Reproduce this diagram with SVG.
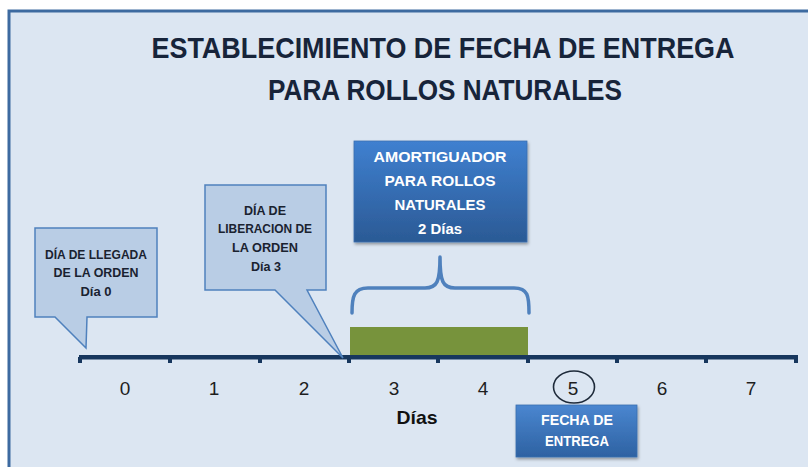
<svg xmlns="http://www.w3.org/2000/svg" width="808" height="467" viewBox="0 0 808 467">
<defs>
<linearGradient id="gBlue" x1="0" y1="0" x2="0" y2="1">
<stop offset="0" stop-color="#3f80d0"/>
<stop offset="1" stop-color="#2b5a95"/>
</linearGradient>
<linearGradient id="gBlue2" x1="0" y1="0" x2="0" y2="1">
<stop offset="0" stop-color="#4a86d0"/>
<stop offset="1" stop-color="#2e62a2"/>
</linearGradient>
<filter id="sh" x="-10%" y="-10%" width="125%" height="130%">
<feDropShadow dx="1" dy="2" stdDeviation="1.5" flood-color="#000" flood-opacity="0.35"/>
</filter>
<style>
.title{font-family:"Liberation Sans",Arial,sans-serif;font-weight:bold;font-size:30px;fill:#17243a;text-anchor:middle}
.call{fill:#b9cde5;stroke:#4f81bd;stroke-width:1.5}
.ct{font-family:"Liberation Sans",Arial,sans-serif;font-weight:bold;font-size:13px;fill:#1a2230;text-anchor:middle}
.wt{font-family:"Liberation Sans",Arial,sans-serif;font-weight:bold;font-size:15px;fill:#ffffff;text-anchor:middle}
.num{font-family:"Liberation Sans",Arial,sans-serif;font-size:19px;fill:#1e1e1e;text-anchor:middle}
.tick{fill:#17375e}
</style>
</defs>
<rect x="0" y="0" width="808" height="467" fill="#ffffff"/>
<rect x="9" y="11" width="812" height="470" fill="#dce6f2" stroke="#3d6aa0" stroke-width="3"/>

<g id="title">
<text class="title" x="443" y="58" textLength="583" lengthAdjust="spacingAndGlyphs">ESTABLECIMIENTO DE FECHA DE ENTREGA</text>
<text class="title" x="445" y="100" textLength="354" lengthAdjust="spacingAndGlyphs">PARA ROLLOS NATURALES</text>
</g>

<g id="connectors">
<path d="M352,313 C352,296 354,288 368,288 L425,288 C437,288 440,282 440,257 C440,282 443,288 455,288 L514,288 C528,288 529,296 529,313" fill="none" stroke="#4f81bd" stroke-width="3.5" stroke-linecap="round" stroke-linejoin="round"/>
</g>

<g id="buffer-bar">
<rect x="350" y="327" width="178" height="30" fill="#77933c"/>
</g>

<g id="axis">
<rect x="79" y="355" width="719" height="4.5" fill="#17375e"/>
<rect class="tick" x="78" y="357" width="4" height="6"/>
<rect class="tick" x="168" y="357" width="4" height="6"/>
<rect class="tick" x="258" y="357" width="4" height="6"/>
<rect class="tick" x="347" y="357" width="4" height="6"/>
<rect class="tick" x="436" y="357" width="4" height="6"/>
<rect class="tick" x="526" y="357" width="4" height="6"/>
<rect class="tick" x="615" y="357" width="4" height="6"/>
<rect class="tick" x="704" y="357" width="4" height="6"/>
<rect class="tick" x="794" y="357" width="4" height="6"/>
<text class="num" x="125" y="395">0</text>
<text class="num" x="214" y="395">1</text>
<text class="num" x="304" y="395">2</text>
<text class="num" x="394" y="395">3</text>
<text class="num" x="483" y="395">4</text>
<text class="num" x="573" y="395">5</text>
<text class="num" x="662" y="395">6</text>
<text class="num" x="751" y="395">7</text>
<text x="417" y="424" font-family="Liberation Sans, Arial, sans-serif" font-weight="bold" font-size="19" fill="#111" text-anchor="middle" textLength="41" lengthAdjust="spacingAndGlyphs">Días</text>
<ellipse cx="574" cy="387" rx="20.5" ry="16" fill="none" stroke="#1e2a3a" stroke-width="1.6"/>
</g>

<g id="callout-llegada">
<path class="call" d="M35,228 H157 V317 H87 L86,348 L55,317 H35 Z"/>
<text class="ct" x="96" y="259" textLength="102" lengthAdjust="spacingAndGlyphs">DÍA DE LLEGADA</text>
<text class="ct" x="96" y="277" textLength="85" lengthAdjust="spacingAndGlyphs">DE LA  ORDEN</text>
<text class="ct" x="96" y="296" textLength="31" lengthAdjust="spacingAndGlyphs">Día 0</text>
</g>

<g id="callout-liberacion">
<path class="call" d="M205,185 H326 V290 H307 L343,358 L275,290 H205 Z"/>
<text class="ct" x="265" y="215" textLength="42" lengthAdjust="spacingAndGlyphs">DÍA DE</text>
<text class="ct" x="265" y="233" textLength="94" lengthAdjust="spacingAndGlyphs">LIBERACION DE</text>
<text class="ct" x="265" y="252" textLength="66" lengthAdjust="spacingAndGlyphs">LA  ORDEN</text>
<text class="ct" x="266" y="271" textLength="30" lengthAdjust="spacingAndGlyphs">Día 3</text>
</g>

<g id="amortiguador">
<rect x="354" y="141" width="173" height="101" fill="url(#gBlue)" stroke="#3b6eb0" stroke-width="0.8" filter="url(#sh)"/>
<text class="wt" x="440" y="162" textLength="133" lengthAdjust="spacingAndGlyphs">AMORTIGUADOR</text>
<text class="wt" x="440" y="186" textLength="111" lengthAdjust="spacingAndGlyphs">PARA  ROLLOS</text>
<text class="wt" x="440" y="210" textLength="91" lengthAdjust="spacingAndGlyphs">NATURALES</text>
<text class="wt" x="440" y="234" textLength="44" lengthAdjust="spacingAndGlyphs">2 Días</text>
</g>

<g id="fecha-entrega">
<rect x="516" y="405" width="121" height="52" fill="url(#gBlue2)" stroke="#3b6eb0" stroke-width="0.8" filter="url(#sh)"/>
<text class="wt" x="577" y="425" font-size="14" textLength="72" lengthAdjust="spacingAndGlyphs">FECHA  DE</text>
<text class="wt" x="577" y="446" font-size="14" textLength="64" lengthAdjust="spacingAndGlyphs">ENTREGA</text>
</g>
</svg>
